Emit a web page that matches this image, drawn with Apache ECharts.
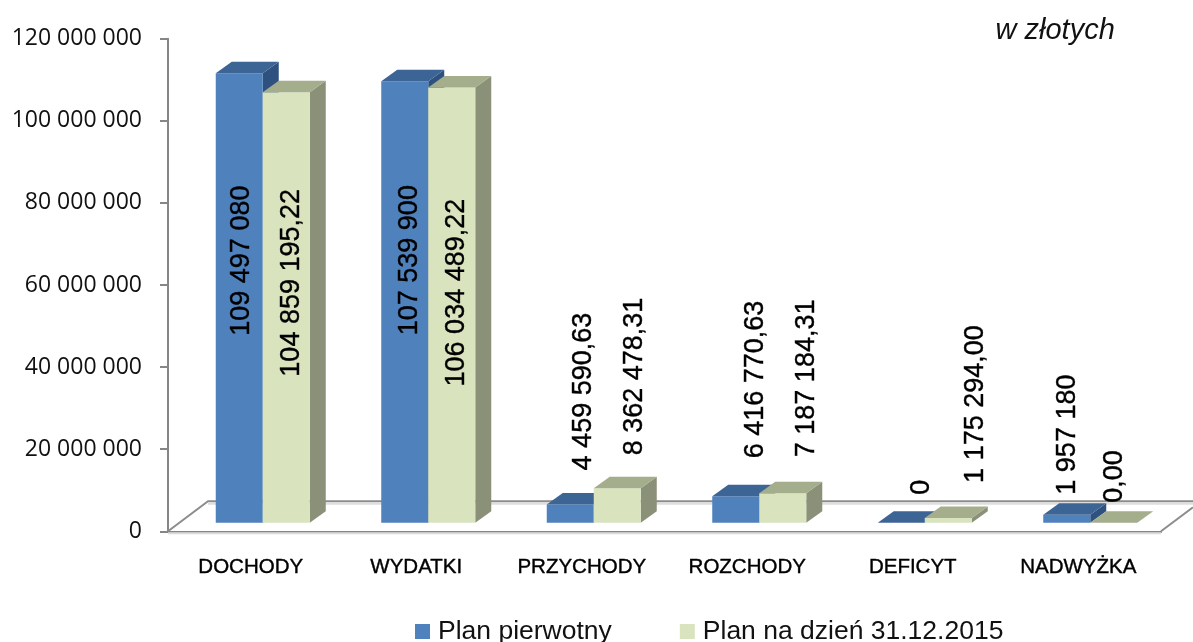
<!DOCTYPE html>
<html><head><meta charset="utf-8">
<style>html,body{margin:0;padding:0;background:#fff}#c{width:1193px;height:642px}</style>
<script src="https://cdn.jsdelivr.net/npm/echarts@6/dist/echarts.min.js"></script>
</head><body><div id="c"></div>
<script>
const categories = ['DOCHODY','WYDATKI','PRZYCHODY','ROZCHODY','DEFICYT','NADWYŻKA'];
const planPierwotny = [109497080,107539900,4459590.63,6416770.63,0,1957180];
const planNaDzien = [104859195.22,106034489.22,8362478.31,7187184.31,1175294,0];
const labelsPierwotny = ['109 497 080','107 539 900','4 459 590,63','6 416 770,63','0','1 957 180'];
const labelsNaDzien = ['104 859 195,22','106 034 489,22','8 362 478,31','7 187 184,31','1 175 294,00','0,00'];
const yTickLabels = v => String(v).replace(/\B(?=(\d{3})+(?!\d))/g,' ');

// hand-placed data labels in the reference: offset from the bar's top-centre
const shiftPierwotny = [[2.7,262.5],[4.5,254],[13,-34],[19.5,-38],[20.7,-28],[0.5,-20]];
const shiftNaDzien = [[5.7,284.4],[5,299],[17.7,-33],[23.5,-36],[27,-35],[0.5,-20]];

const FONT = '"Liberation Sans", Arial, sans-serif';
const DEPTH_X = 16, DEPTH_Y = 11.5, LIFT = 8.6;
const poly = (pts, fill, z2) => ({type:'polygon', shape:{points:pts}, style:{fill}, z2});

function bar3d(side, colors, labels, shifts){
  return function(params, api){
    const i = api.value(0), v = api.value(1);
    const band = api.size([1,0])[0];
    const w = band*0.284, cx = api.coord([i,0])[0] + band*0.0725;
    const x0 = side < 0 ? cx - w : cx, x1 = x0 + w;
    const base = api.coord([i,0])[1] - LIFT, top = api.coord([i,v])[1] - LIFT;
    const kids = [];
    if (base - top > 0.5) {
      kids.push(poly([[x1,top],[x1+DEPTH_X,top-DEPTH_Y],[x1+DEPTH_X,base-DEPTH_Y],[x1,base]], colors.side));
      kids.push(poly([[x0,top],[x1,top],[x1,base],[x0,base]], colors.front));
    }
    kids.push(poly([[x0,top],[x1,top],[x1+DEPTH_X,top-DEPTH_Y],[x0+DEPTH_X,top-DEPTH_Y]], colors.top));
    kids.push({type:'text', z2:100, x:(x0+x1)/2 + shifts[i][0], y:top + shifts[i][1], rotation:Math.PI/2,
      style:{text:labels[i], fill:'#000', stroke:'#000', lineWidth:0.4, font:'27px '+FONT, align:'left', verticalAlign:'middle'}});
    return {type:'group', children:kids};
  };
}

function floor(params){
  const c = params.coordSys, L = c.x, R = c.x+c.width, B = c.y+c.height, T = B-30;
  const line = (pts,stroke,w) => ({type:'polyline', shape:{points:pts}, style:{stroke,lineWidth:w,fill:null}, silent:true});
  return {type:'group', children:[
    line([[L+40,T+2.5],[1193,T+2.5]],'#dedede',2),
    line([[L,B],[L+40,T],[1193,T]],'#8c8c8c',2),
    line([[R,B],[1193,B-24]],'#8c8c8c',2),
    line([[L,B+2],[R,B+2]],'#dcdcdc',2)
  ]};
}

const blue = {front:'#4F81BD', top:'#3C6495', side:'#2F5180'};
const green = {front:'#D9E4BF', top:'#A4AD8C', side:'#8A9178'};
const toData = arr => arr.map((v,i)=>[i,v]);

const chart = echarts.init(document.getElementById('c'), null, {renderer:'canvas'});
chart.setOption({
  animation:false,
  backgroundColor:'#fff',
  grid:{left:168, right:32, top:38.7, bottom:110.7},
  title:{text:'w złotych', left:990.5, top:11, textStyle:{fontFamily:FONT, fontSize:29, fontWeight:'normal', fontStyle:'italic', color:'#111'}},
  legend:{left:410, top:613, itemWidth:15, itemHeight:15, itemGap:68, icon:'rect', selectedMode:false,
    data:['Plan pierwotny','Plan na dzień 31.12.2015'],
    textStyle:{fontFamily:FONT, fontSize:26.5, color:'#111', padding:[0,0,0,3]}},
  xAxis:{type:'category', data:categories, axisTick:{show:false},
    axisLine:{lineStyle:{color:'#868686',width:2}},
    axisLabel:{fontFamily:FONT, fontSize:20.5, color:'#000', margin:26, interval:0, textBorderColor:'#000', textBorderWidth:0.4}},
  yAxis:{type:'value', min:0, max:120000000, interval:20000000, splitLine:{show:false},
    axisLine:{show:true, lineStyle:{color:'#868686',width:2}},
    axisTick:{show:true, length:8, lineStyle:{color:'#868686',width:2}},
    axisLabel:{fontFamily:'"Open Sans", sans-serif', fontSize:23, color:'#111', margin:26, padding:[8,0,0,0], formatter:yTickLabels}},
  series:[
    {type:'custom', name:'floor', silent:true, z:1, data:[[0,0]], renderItem:floor, clip:false},
    {type:'custom', name:'Plan pierwotny', z:2, data:toData(planPierwotny), itemStyle:{color:blue.front}, clip:false,
      encode:{x:0,y:1}, renderItem:bar3d(-1,blue,labelsPierwotny,shiftPierwotny)},
    {type:'custom', name:'Plan na dzień 31.12.2015', z:3, data:toData(planNaDzien), itemStyle:{color:green.front}, clip:false,
      encode:{x:0,y:1}, renderItem:bar3d(1,green,labelsNaDzien,shiftNaDzien)}
  ]
});
</script></body></html>
